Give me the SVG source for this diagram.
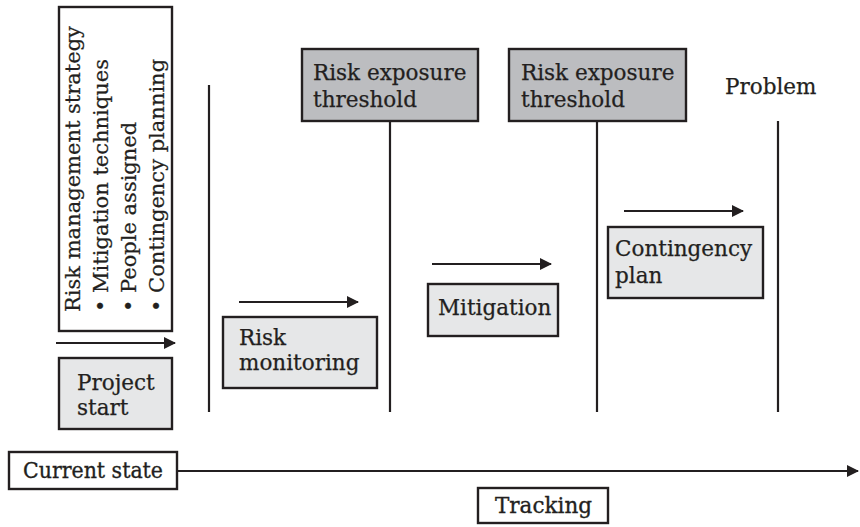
<svg xmlns="http://www.w3.org/2000/svg" width="860" height="527" viewBox="0 0 860 527">
  <style>
    .box { stroke: #231f20; stroke-width: 2.4; }
    .dark { fill: #bcbdc0; }
    .light { fill: #e6e7e8; }
    .plain { fill: #ffffff; }
    .t { font-family: "DejaVu Serif", "Liberation Serif", serif; font-size: 21.5px; fill: #231f20; stroke: #231f20; stroke-width: 0.25; }
    .tv { font-size: 21px; }
    .tc { font-family: "DejaVu Serif", "Liberation Serif", serif; font-size: 22px; fill: #231f20; stroke: #231f20; stroke-width: 0.35; }
    .ln { stroke: #231f20; stroke-width: 2.2; fill: none; }
    .arr { stroke: #231f20; stroke-width: 2.2; fill: none; marker-end: url(#head); }
  </style>
  <defs>
    <marker id="head" viewBox="0 0 12 12" refX="11" refY="6" markerWidth="12" markerHeight="12" markerUnits="userSpaceOnUse" orient="auto">
      <path d="M0,0 L12,6 L0,12 Z" fill="#231f20"/>
    </marker>
  </defs>

  <rect width="860" height="527" fill="#ffffff"/>

  <!-- timeline markers and flow arrows -->
  <g id="connectors">
    <line class="ln" x1="209" y1="85" x2="209" y2="412"/>
    <line class="ln" x1="390" y1="121" x2="390" y2="412"/>
    <line class="ln" x1="597" y1="121" x2="597" y2="412"/>
    <line class="ln" x1="778" y1="121" x2="778" y2="412"/>
    <line class="arr" x1="56" y1="343" x2="175" y2="343"/>
    <line class="arr" x1="239" y1="302" x2="358" y2="302"/>
    <line class="arr" x1="432" y1="264" x2="551" y2="264"/>
    <line class="arr" x1="624" y1="211" x2="743" y2="211"/>
    <line class="arr" x1="177" y1="471" x2="858" y2="471"/>
  </g>

  <g id="strategy">
    <rect class="box plain" x="59" y="7" width="113" height="324"/>
    <text class="t tv" transform="translate(80,312) rotate(-90)">Risk management strategy</text>
    <text class="t tv" transform="translate(108,312) rotate(-90)">• Mitigation techniques</text>
    <text class="t tv" transform="translate(136,312) rotate(-90)">• People assigned</text>
    <text class="t tv" transform="translate(164,312) rotate(-90)">• Contingency planning</text>
  </g>

  <g id="project-start">
    <rect class="box light" x="59" y="358" width="113" height="71"/>
    <text class="t" x="77" y="390">Project</text>
    <text class="t" x="77" y="415">start</text>
  </g>

  <g id="risk-monitoring">
    <rect class="box light" x="223" y="317" width="154" height="71"/>
    <text class="t" x="239" y="345">Risk</text>
    <text class="t" x="239" y="370">monitoring</text>
  </g>

  <g id="threshold-1">
    <rect class="box dark" x="302" y="49" width="176" height="72"/>
    <text class="t" x="313" y="80">Risk exposure</text>
    <text class="t" x="313" y="107">threshold</text>
  </g>

  <g id="mitigation">
    <rect class="box light" x="428" y="284" width="130" height="52"/>
    <text class="t" x="438" y="315">Mitigation</text>
  </g>

  <g id="threshold-2">
    <rect class="box dark" x="509" y="49" width="177" height="72"/>
    <text class="t" x="521" y="80">Risk exposure</text>
    <text class="t" x="521" y="107">threshold</text>
  </g>

  <g id="contingency-plan">
    <rect class="box light" x="608" y="227" width="155" height="71"/>
    <text class="t" x="615" y="256">Contingency</text>
    <text class="t" x="615" y="283">plan</text>
  </g>

  <g id="problem">
    <text class="t" x="725" y="94">Problem</text>
  </g>

  <g id="current-state">
    <rect class="box plain" x="9" y="452" width="168" height="37"/>
    <text class="tc" x="23" y="478" textLength="140" lengthAdjust="spacingAndGlyphs">Current state</text>
  </g>

  <g id="tracking">
    <rect class="box plain" x="478" y="488" width="130" height="35"/>
    <text class="tc" x="495" y="513" textLength="97" lengthAdjust="spacingAndGlyphs">Tracking</text>
  </g>
</svg>
